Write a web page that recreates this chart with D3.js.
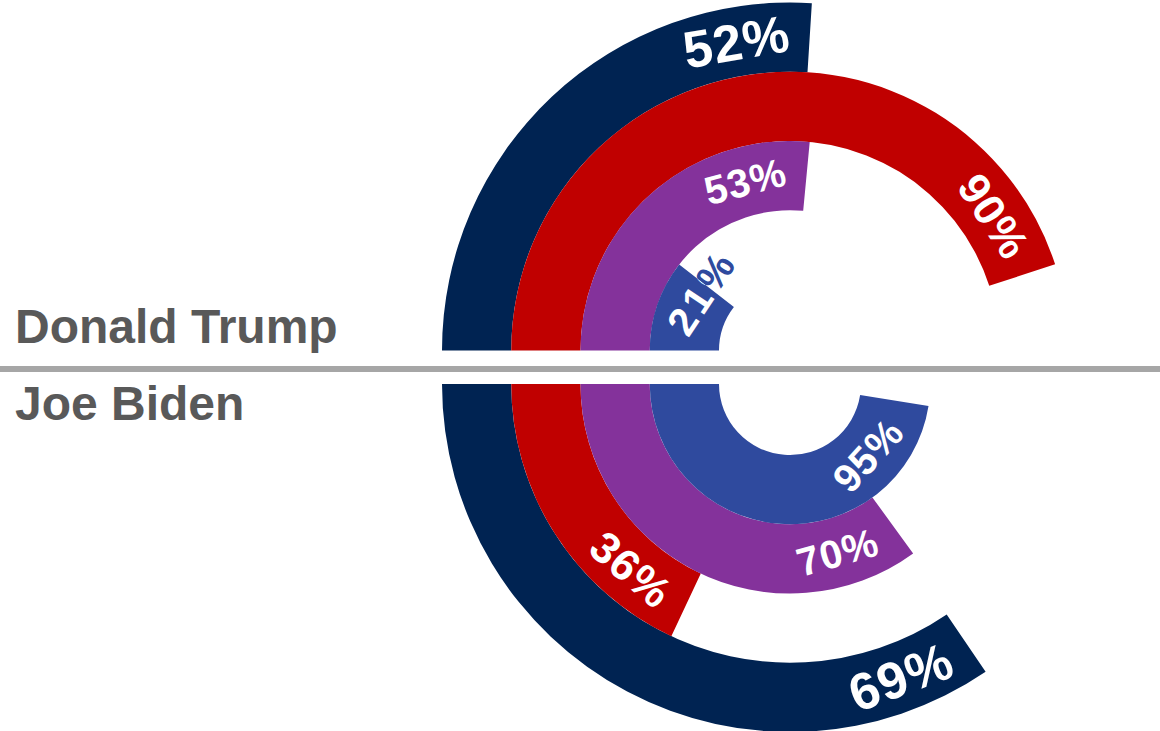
<!DOCTYPE html>
<html>
<head>
<meta charset="utf-8">
<style>
    body {
        margin: 0;
        background: #fff;
        font-family: "Liberation Sans", Arial, sans-serif;
    }
    .name {
        font-size: 48px;
        font-weight: 700;
        fill: #595959;
    }
    .pct {
        font-weight: 700;
        text-anchor: middle;
        dominant-baseline: central;
        letter-spacing: 1px;
    }
</style>
<script src="https://d3js.org/d3.v7.min.js"></script>
</head>
<body>
<script>
    // rings, listed outer -> inner
    const groups = ['Group 1', 'Group 2', 'Group 3', 'Group 4'];
    const candidates = ['Donald Trump', 'Joe Biden'];
    const trumpValues = [52, 90, 53, 21];
    const bidenValues = [69, 36, 70, 95];

    const ringColors = ['#002352', '#c00000', '#84329b', '#2f4a9e'];
    const labelSizes = [52, 44, 40, 40];

    const width = 1160, height = 731;
    const cx = 790;
    const labelPad = 20;

    const svg = d3.select('body').append('svg')
        .attr('width', width)
        .attr('height', height);

    const r = d3.scaleLinear().domain([0, groups.length]).range([71, 348]);
    const angle = d3.scaleLinear().domain([0, 100]).range([0, Math.PI]);

    const ringInner = i => r(groups.length - 1 - i);
    const ringOuter = i => r(groups.length - i);

    // divider
    svg.append('line')
        .attr('x1', 0).attr('x2', width)
        .attr('y1', 369).attr('y2', 369)
        .attr('stroke', '#a6a6a6')
        .attr('stroke-width', 6);

    const halves = [
        { name: candidates[0], values: trumpValues, cy: 350.5, dir: 1, labelY: 343 },
        { name: candidates[1], values: bidenValues, cy: 384, dir: -1, labelY: 420 }
    ];

    const defs = svg.append('defs');
    const arc = d3.arc();

    halves.forEach((h, hi) => {
        svg.append('text')
            .attr('class', 'name')
            .attr('x', 15)
            .attr('y', h.labelY)
            .text(h.name);

        const g = svg.append('g').attr('transform', `translate(${cx},${h.cy})`);

        const rows = h.values.map((v, i) => ({
            group: groups[i],
            value: v,
            i: i,
            innerRadius: ringInner(i),
            outerRadius: ringOuter(i),
            startAngle: -Math.PI / 2,
            endAngle: -Math.PI / 2 + h.dir * angle(v)
        }));

        g.selectAll('path.ring')
            .data(rows)
            .join('path')
            .attr('class', 'ring')
            .attr('d', arc)
            .attr('fill', d => ringColors[d.i]);

        rows.forEach(d => {
            defs.append('clipPath')
                .attr('id', `clip${hi}_${d.i}`)
                .append('path')
                .attr('transform', `translate(${cx},${h.cy})`)
                .attr('d', arc(d));
        });

        rows.forEach(d => {
            const rMid = (d.innerRadius + d.outerRadius) / 2;
            // coloured copy shows where the label runs past the bar end
            const under = g.append('text')
                .attr('class', 'pct')
                .style('font-size', labelSizes[d.i] + 'px')
                .attr('fill', ringColors[d.i])
                .text(d.value + '%');
            let w = under.node().getComputedTextLength();
            const arcLen = rMid * angle(d.value);
            const fits = w + 2 * labelPad < arcLen;
            if (!fits) {
                under.style('letter-spacing', '4px');
                w = under.node().getComputedTextLength();
            }
            const back = fits ? labelPad + w / 2 : 8;
            const theta = d.endAngle - h.dir * back / rMid;
            const x = rMid * Math.sin(theta), y = -rMid * Math.cos(theta);
            const rot = theta * 180 / Math.PI + (h.dir === 1 ? 0 : 180);
            const tf = `translate(${x},${y}) rotate(${rot})`;
            under.attr('transform', tf);

            svg.append('g')
                .attr('clip-path', `url(#clip${hi}_${d.i})`)
                .append('text')
                .attr('class', 'pct')
                .style('font-size', labelSizes[d.i] + 'px')
                .style('letter-spacing', fits ? null : '4px')
                .attr('fill', '#fff')
                .attr('transform', `translate(${cx},${h.cy}) ` + tf)
                .text(d.value + '%');
        });
    });
</script>
</body>
</html>
